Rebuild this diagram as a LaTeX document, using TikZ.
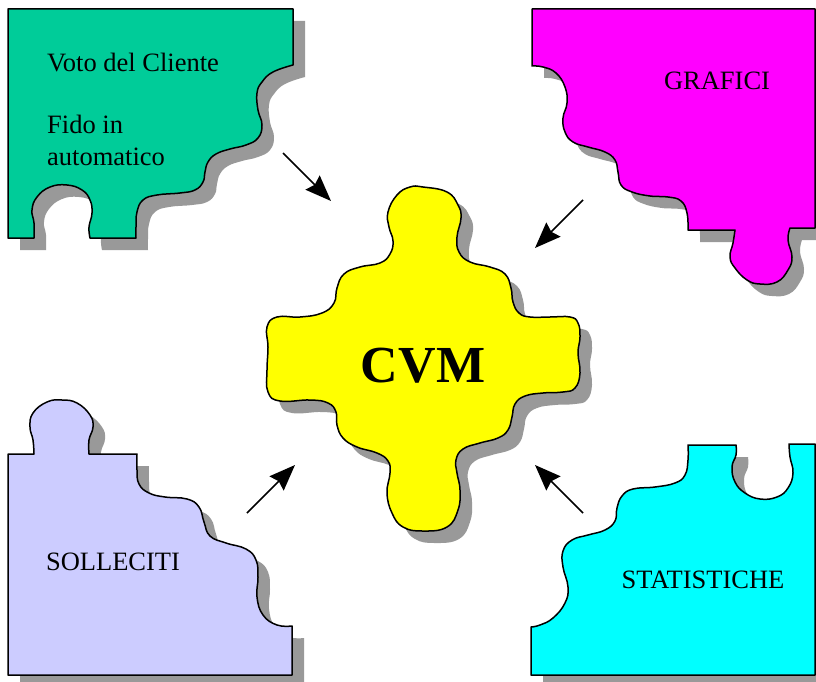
\documentclass[tikz,border=0pt]{standalone}
\usepackage{fontspec}
\setmainfont{Liberation Serif}
\usepackage{tikz}
\usepackage{xcolor}
\usetikzlibrary{arrows.meta}
\usetikzlibrary{shadows}

\definecolor{votogreen}{RGB}{0,204,153}
\definecolor{grafmagenta}{RGB}{255,0,255}
\definecolor{sollavender}{RGB}{204,204,255}
\definecolor{statcyan}{RGB}{0,255,255}
\definecolor{cvmyellow}{RGB}{255,255,0}
\definecolor{shadegray}{RGB}{153,153,153}

\tikzset{
	piece/.style={draw=black, line width=1.5pt, line join=round,
		drop shadow={shadow xshift=12pt, shadow yshift=-12pt, fill=shadegray, opacity=1}},
	wave/.style={smooth, tension=0.75},
	label/.style={inner sep=0pt, font=\fontsize{26.5}{32}\selectfont},
	toward/.style={-{Stealth[length=26pt, width=20pt, inset=3pt]}, line width=1.5pt},
}

\begin{document}
\begin{tikzpicture}[x=1pt, y=-1pt]
				\useasboundingbox[fill=white] (0,0) rectangle (816,682);

				% pezzo verde in alto a sinistra
				\filldraw[piece, fill=votogreen] (8,9) to (293,9) to (293,65)
					-- plot[wave] coordinates {(293,65) (273,72) (262,82) (257,93) (258,110) (262,125)
						(258,138) (246,145) (230,149) (216,154) (208,162) (205,172) (203,182) (195,190) (180,193)
						(157,195) (143,200) (137,212) (136,227) (136,238)}
					-- (90,238)
					-- plot[wave] coordinates {(90,238) (89,227) (92,213) (90,200) (82,190) (67,185)
						(50,187) (37,197) (32,210) (34,223) (34,238)}
					-- (8,238) -- cycle;

				% pezzo magenta in alto a destra
				\filldraw[piece, fill=grafmagenta] (532,9) to (815,9) to (815,228) to (790,228)
					-- plot[wave] coordinates {(790,228) (788,240) (792,257) (788,270) (777,282)
						(760,284) (747,280) (735,268) (730,257) (733,243) (735,230)}
					-- (688,230)
					-- plot[wave] coordinates {(688,230) (687,213) (681,201) (668,197) (650,196)
						(632,192) (621,185) (618,172) (615,160) (605,152) (588,147) (573,142) (565,132) (563,118)
						(567,103) (565,87) (556,73) (543,67) (532,66)}
					-- cycle;

				% pezzo lilla in basso a sinistra
				\filldraw[piece, fill=sollavender] (8,675) to (8,454) to (34,454)
					-- plot[wave] coordinates {(34,454) (33,440) (30,427) (33,413) (47,402) (62,400)
						(77,403) (90,415) (93,427) (89,440) (89,454)}
					-- (137,454)
					-- plot[wave] coordinates {(137,454) (137,470) (139,484) (149,493) (165,497)
						(187,499) (199,507) (204,522) (210,536) (226,543) (246,549) (256,560) (258,577) (257,597)
						(263,615) (277,625) (292,626)}
					-- (292,675) -- cycle;

				% pezzo azzurro in basso a destra
				\filldraw[piece, fill=statcyan] (531,675) to (815,675) to (815,444) to (789,444)
					-- plot[wave] coordinates {(789,444) (790,457) (793,473) (788,488) (777,497)
						(760,499) (745,493) (735,482) (732,467) (736,455) (736,445)}
					-- (688,445)
					-- plot[wave] coordinates {(688,445) (688,460) (685,475) (675,483) (655,487)
						(633,489) (622,496) (617,508) (615,521) (605,530) (588,535) (572,540) (563,551) (563,567)
						(568,587) (565,603) (553,618) (540,625) (531,627)}
					-- cycle;

				% pezzo centrale
				\filldraw[piece, fill=cvmyellow] plot[wave, smooth cycle] coordinates {
					(423,187) (447,192) (458,205) (461,218) (457,237) (459,252) (470,262) (490,267) (505,274)
					(511,288) (513,302) (519,313) (530,317) (550,317) (570,317) (578,323) (580,337) (578,353)
					(580,373) (575,388) (563,392) (543,393) (525,396) (515,404) (512,417) (508,430) (498,438)
					(480,443) (463,449) (456,460) (457,473) (460,490) (458,510) (447,527) (423,531) (403,527)
					(392,513) (387,493) (390,473) (388,461) (377,453) (357,447) (343,438) (337,425) (336,412)
					(328,403) (310,400) (280,401) (268,392) (267,370) (268,347) (267,327) (277,317) (300,317)
					(322,313) (334,303) (337,288) (344,274) (360,267) (380,263) (390,254) (393,241) (389,227)
					(388,212) (397,195) (410,187)};

				\node[label, anchor=base west] (voto) at (47,72) {Voto del Cliente};
				\node[label, anchor=base west] (fido) at (47,133) {Fido in};
				\node[label, anchor=base west] (automatico) at (47,165) {automatico};
				\node[label, anchor=base] (grafici) at (717,90) {GRAFICI};
				\node[label, anchor=base] (solleciti) at (113,570) {SOLLECITI};
				\node[label, anchor=base] (statistiche) at (703,588) {STATISTICHE};
				\node[inner sep=0pt, font=\fontsize{52}{60}\selectfont\bfseries] (cvm) at (423,366) {CVM};

				\coordinate (votoout) at (283,153);
				\coordinate (votoin) at (331,201);
				\coordinate (grafout) at (583,200);
				\coordinate (grafin) at (535,248);
				\coordinate (sollout) at (247,513);
				\coordinate (sollin) at (295,465);
				\coordinate (statout) at (583,513);
				\coordinate (statin) at (535,465);

				\draw[toward] (votoout) to (votoin);
				\draw[toward] (grafout) to (grafin);
				\draw[toward] (sollout) to (sollin);
				\draw[toward] (statout) to (statin);
			\end{tikzpicture}
\end{document}
